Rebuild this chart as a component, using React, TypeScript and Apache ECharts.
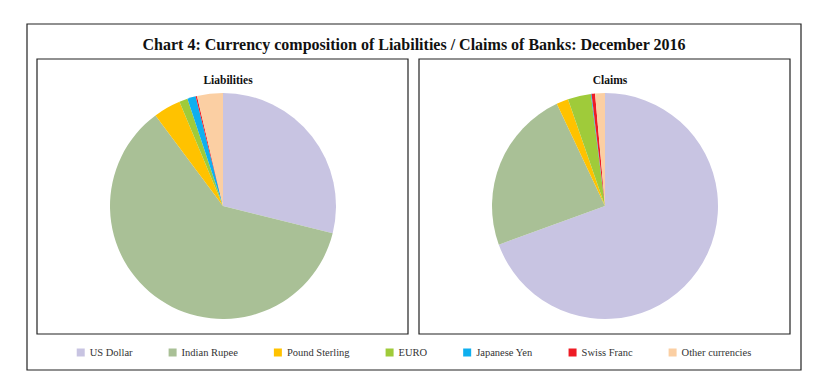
import React, { useEffect, useRef } from "react";
import * as echarts from "echarts";

const currencies = ["US Dollar", "Indian Rupee", "Pound Sterling", "EURO", "Japanese Yen", "Swiss Franc", "Other currencies"];
const liabilities = [28.9, 61.0, 3.9, 1.2, 1.2, 0.2, 3.7];
const claims = [69.3, 23.5, 1.7, 3.3, 0.1, 0.5, 1.4];
const colors = ["#C8C4E2", "#A9C096", "#FFC200", "#9FCB3A", "#0FAFEF", "#EE1C25", "#FBCFA3"];
const titleText = "Chart 4: Currency composition of Liabilities / Claims of Banks: December 2016";

const FONT = "'Liberation Serif', 'DejaVu Serif', serif";

export default function App() {
  const ref = useRef<HTMLDivElement>(null);
  useEffect(() => {
    if (!ref.current) return;
    const chart = echarts.init(ref.current, undefined, { renderer: "svg" });
    const mk = (vals: number[]) => currencies.map((name, i) => ({ name, value: vals[i] }));
    chart.setOption({
      animation: false,
      backgroundColor: "#ffffff",
      color: colors,
      title: [
        { text: titleText, left: "center", top: 31, textStyle: { fontFamily: FONT, fontSize: 16, fontWeight: "bold", color: "#111" } },
        { text: "Liabilities", left: 223, top: 69, textAlign: "center", textStyle: { fontFamily: FONT, fontSize: 11.5, fontWeight: "bold", color: "#111" } },
        { text: "Claims", left: 605, top: 69, textAlign: "center", textStyle: { fontFamily: FONT, fontSize: 11.5, fontWeight: "bold", color: "#111" } },
      ],
      graphic: [
        { type: "rect", shape: { x: 27, y: 24, width: 774, height: 346 }, style: { fill: "none", stroke: "#222", lineWidth: 1.2 }, z: -1 },
        { type: "rect", shape: { x: 37, y: 59, width: 371, height: 275 }, style: { fill: "none", stroke: "#222", lineWidth: 1.2 }, z: -1 },
        { type: "rect", shape: { x: 419, y: 59, width: 371, height: 275 }, style: { fill: "none", stroke: "#222", lineWidth: 1.2 }, z: -1 },
      ],
      legend: {
        data: currencies,
        left: "center",
        top: 342,
        icon: "rect",
        itemWidth: 8,
        itemHeight: 8,
        itemGap: 36,
        textStyle: { fontFamily: FONT, fontSize: 10.5, color: "#333", padding: [0, 0, 0, 0] },
      },
      series: [
        {
          type: "pie",
          name: "Liabilities",
          center: [223, 206],
          radius: 113,
          startAngle: 90,
          clockwise: true,
          label: { show: false },
          labelLine: { show: false },
          emphasis: { disabled: true },
          itemStyle: { borderWidth: 0 },
          data: mk(liabilities),
        },
        {
          type: "pie",
          name: "Claims",
          center: [605, 206],
          radius: 113,
          startAngle: 90,
          clockwise: true,
          label: { show: false },
          labelLine: { show: false },
          emphasis: { disabled: true },
          itemStyle: { borderWidth: 0 },
          data: mk(claims),
        },
      ],
    });
    return () => chart.dispose();
  }, []);
  return <div ref={ref} style={{ position: "fixed", left: 0, top: 0, width: 828, height: 390 }} />;
}
